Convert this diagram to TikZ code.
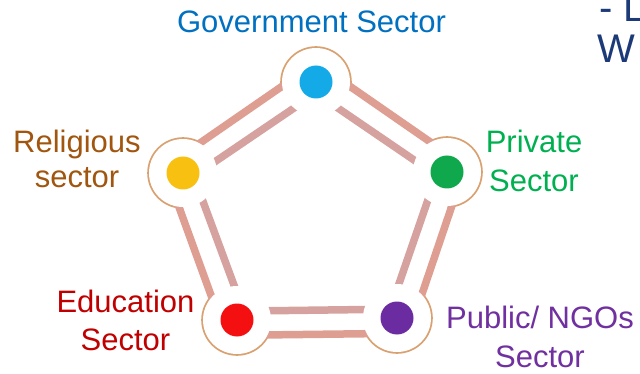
\documentclass[tikz,border=0pt]{standalone}
\usepackage{fontspec}
\setmainfont{Liberation Sans}
\usetikzlibrary{calc}
\definecolor{govblue}{HTML}{0070C0}
\definecolor{relbrown}{HTML}{A0560F}
\definecolor{privgreen}{HTML}{00B050}
\definecolor{edured}{HTML}{C00000}
\definecolor{pubpurple}{HTML}{7030A0}
\definecolor{navy}{HTML}{1C3A78}
\definecolor{dotcyan}{HTML}{14AAE8}
\definecolor{dotyellow}{HTML}{F8C010}
\definecolor{dotgreen}{HTML}{10A84C}
\definecolor{dotred}{HTML}{F41010}
\definecolor{dotpurple}{HTML}{6A2CA0}
\definecolor{ringc}{HTML}{D9A070}
\definecolor{outerc}{HTML}{DE9F92}
\definecolor{innerc}{HTML}{D6A2A0}
\tikzset{
  dot/.style={circle, inner sep=0pt, minimum size=33pt, draw=none},
  lbl/.style={font=\fontsize{31}{38}\selectfont, align=center, anchor=base, inner sep=0pt},
  outerband/.style={draw=outerc, line width=7.5pt, line join=round},
  innerbar/.style={draw=innerc, line width=7.5pt, line join=round},
}
\begin{document}
\begin{tikzpicture}[x=1pt,y=-1pt]
\useasboundingbox (0,0) rectangle (640,374);
\coordinate (o) at (316,213);
\coordinate (t) at (316,82);
\coordinate (r) at (447,172);
\coordinate (br) at (397,318);
\coordinate (bl) at (237,320);
\coordinate (l) at (183,173);
% rings, only outside the band
\begin{scope}
  \clip (-20,-20) -- (660,-20) -- (660,400) -- (-20,400) -- cycle
        ($(t)!-14.8pt!(o)$) -- ($(l)!-14.8pt!(o)$) -- ($(bl)!-14.8pt!(o)$) -- ($(br)!-14.8pt!(o)$) -- ($(r)!-14.8pt!(o)$) -- cycle;
  \foreach \v in {t,r,br,bl,l} \fill[ringc] (\v) circle (35.8pt);
\end{scope}
% outer band
\draw[outerband] ($(t)!-19.2pt!(o)$) -- ($(r)!-19.2pt!(o)$) -- ($(br)!-19.2pt!(o)$) -- ($(bl)!-19.2pt!(o)$) -- ($(l)!-19.2pt!(o)$) -- cycle;
% inner bars
\draw[innerbar] ($(t)!11.1pt!(o)$) -- ($(r)!11.1pt!(o)$) -- ($(br)!11.1pt!(o)$) -- ($(bl)!11.1pt!(o)$) -- ($(l)!11.1pt!(o)$) -- cycle;
% white discs
\foreach \v in {t,r,br,bl,l} \fill[white] (\v) circle (34pt);
% coloured dots
\node[dot, fill=dotcyan] (dt) at (t) {};
\node[dot, fill=dotgreen] (dr) at (r) {};
\node[dot, fill=dotpurple] (dbr) at (br) {};
\node[dot, fill=dotred] (dbl) at (bl) {};
\node[dot, fill=dotyellow] (dl) at (l) {};
% labels
\node[lbl, text=govblue] (gov) at (311.5,33) {Government Sector};
\node[lbl, text=relbrown, font=\fontsize{31}{35}\selectfont] (rel) at (77,188) {Religious\\sector};
\node[lbl, text=privgreen, font=\fontsize{31}{39}\selectfont] (priv) at (534,192) {Private\\Sector};
\node[lbl, text=edured] (edu) at (125.5,350) {Education\\Sector};
\node[lbl, text=pubpurple, font=\fontsize{31}{39}\selectfont] (pub) at (540,367) {Public/ NGOs\\Sector};
\node[font=\fontsize{40}{41}\selectfont, text=navy, anchor=base west, inner sep=0pt] (tr1) at (599,22) {- L};
\node[font=\fontsize{40}{41}\selectfont, text=navy, anchor=base west, inner sep=0pt] (tr2) at (597,63) {W};
\end{tikzpicture}
\end{document}
